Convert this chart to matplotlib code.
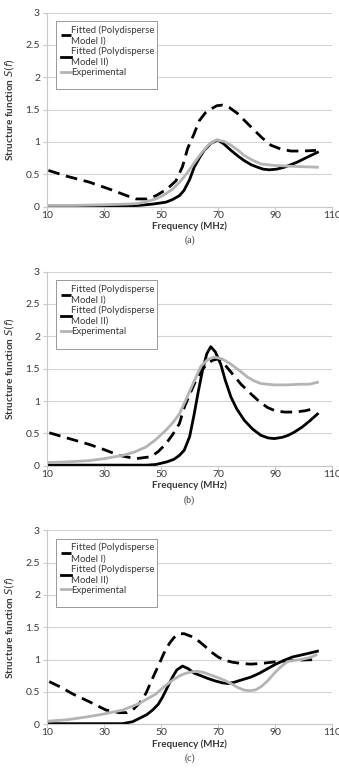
import matplotlib
matplotlib.use("Agg")
import matplotlib.pyplot as plt
from matplotlib.patches import Rectangle

plt.rcParams['font.family'] = ['Lato', 'DejaVu Sans']

# ---- panel (a) ----
fa_m1 = [10.5, 17, 24.8, 32, 38, 41.2, 45, 48.2, 52, 55.2, 57.5, 59.3, 61.5, 63.4, 65.5, 67.5, 69.5, 71.5, 74, 76.8, 79.5, 82.7, 85.5, 88.5, 92, 95.5, 99.6, 104.3]
va_m1 = [0.56, 0.47, 0.38, 0.27, 0.17, 0.12, 0.12, 0.17, 0.27, 0.40, 0.62, 0.90, 1.12, 1.33, 1.45, 1.51, 1.56, 1.57, 1.53, 1.44, 1.32, 1.18, 1.06, 0.95, 0.89, 0.86, 0.86, 0.87]
fa_m2 = [10.5, 20, 30, 38, 42.3, 47, 51.7, 54, 56.4, 58, 60, 61.6, 63.5, 65.1, 67.5, 69.8, 72, 74.5, 77, 79.2, 81.5, 83.8, 85.8, 87.9, 90.5, 93.2, 95.5, 97.8, 101, 104.8]
va_m2 = [0.01, 0.01, 0.01, 0.01, 0.02, 0.04, 0.07, 0.11, 0.17, 0.25, 0.42, 0.61, 0.76, 0.87, 0.98, 1.03, 0.97, 0.87, 0.78, 0.71, 0.65, 0.61, 0.58, 0.57, 0.58, 0.61, 0.65, 0.69, 0.76, 0.84]
fa_ex = [10.5, 20, 30, 38, 42, 45, 48.2, 51, 54, 56.5, 59.3, 61.5, 64, 66.5, 69.2, 72, 74.5, 77, 79.2, 82, 85, 89, 93.2, 98, 104.8]
va_ex = [0.02, 0.02, 0.03, 0.04, 0.05, 0.08, 0.12, 0.18, 0.27, 0.38, 0.53, 0.67, 0.82, 0.95, 1.03, 1.01, 0.95, 0.87, 0.79, 0.72, 0.66, 0.64, 0.63, 0.62, 0.61]

# ---- panel (b) ----
fb_m1 = [10.8, 17, 24.8, 30, 35.3, 41.2, 46.5, 49, 51.7, 54, 56.4, 58.1, 60, 62, 64, 66, 68, 69.8, 72, 75, 78, 81.5, 84.5, 87.3, 90, 93.2, 97, 100.5, 104.3]
vb_m1 = [0.51, 0.43, 0.33, 0.25, 0.16, 0.11, 0.14, 0.22, 0.34, 0.48, 0.65, 0.90, 1.10, 1.30, 1.46, 1.57, 1.63, 1.65, 1.58, 1.42, 1.26, 1.11, 0.99, 0.90, 0.85, 0.83, 0.83, 0.85, 0.89]
fb_m2 = [10.8, 20, 30, 40, 45, 48.2, 52, 54.5, 56.4, 58.1, 60, 61.6, 63, 64.5, 66, 67.4, 69, 70.9, 72.5, 74.5, 76.5, 79.2, 82, 85, 87.5, 89.7, 92.5, 94.5, 96.7, 99.5, 102, 104.8]
vb_m2 = [0.01, 0.01, 0.01, 0.01, 0.01, 0.02, 0.06, 0.10, 0.16, 0.24, 0.45, 0.80, 1.14, 1.47, 1.73, 1.84, 1.76, 1.57, 1.32, 1.06, 0.88, 0.70, 0.57, 0.47, 0.43, 0.42, 0.44, 0.47, 0.52, 0.60, 0.69, 0.80]
fb_ex = [10.8, 17, 24.8, 30, 36.5, 40.5, 44.7, 48, 51.7, 54, 56.4, 59.3, 61.5, 64, 66.3, 68.6, 71.5, 74.5, 77.5, 80.3, 82.7, 85, 89.7, 94, 98.9, 102, 104.8]
vb_ex = [0.05, 0.06, 0.08, 0.11, 0.16, 0.21, 0.29, 0.40, 0.55, 0.66, 0.80, 1.08, 1.30, 1.54, 1.64, 1.68, 1.65, 1.57, 1.47, 1.37, 1.31, 1.27, 1.25, 1.25, 1.26, 1.26, 1.29]

# ---- panel (c) ----
fc_m1 = [10.8, 15, 19, 24.8, 30.7, 35.3, 38, 40, 42.5, 44.7, 47, 49.4, 51, 52.9, 54.5, 56.4, 58.1, 60.5, 62.8, 65, 67.5, 70, 72.2, 75, 78, 81.5, 85, 90.9, 96.7, 104.3]
vc_m1 = [0.66, 0.57, 0.47, 0.35, 0.22, 0.18, 0.18, 0.22, 0.33, 0.48, 0.71, 0.94, 1.10, 1.25, 1.34, 1.40, 1.40, 1.36, 1.30, 1.22, 1.12, 1.04, 0.99, 0.96, 0.94, 0.93, 0.94, 0.97, 0.99, 1.00]
fc_m2 = [10.8, 20, 30, 36.5, 40, 42.3, 45, 47, 49, 50.5, 52.3, 54, 55.5, 57.5, 59.5, 61.6, 64, 66.3, 69, 71.5, 73.5, 75.6, 78.5, 81.5, 84.5, 87.3, 90.2, 93.2, 96, 99, 102, 104.8]
vc_m2 = [0.01, 0.01, 0.01, 0.01, 0.04, 0.09, 0.15, 0.22, 0.31, 0.42, 0.58, 0.73, 0.84, 0.90, 0.86, 0.79, 0.75, 0.71, 0.67, 0.64, 0.63, 0.65, 0.69, 0.73, 0.79, 0.86, 0.93, 0.99, 1.04, 1.07, 1.10, 1.13]
fc_ex = [10.8, 17, 24.8, 30, 36.5, 42.3, 45, 48.2, 51, 54, 56.5, 58.7, 60.8, 62.8, 65, 67.5, 70, 72.2, 74.5, 76.8, 79, 80.9, 83, 85, 87.3, 89.7, 92, 94.3, 97, 99, 102, 104.3]
vc_ex = [0.05, 0.07, 0.12, 0.16, 0.22, 0.32, 0.39, 0.47, 0.58, 0.68, 0.75, 0.79, 0.81, 0.82, 0.80, 0.76, 0.72, 0.68, 0.63, 0.57, 0.53, 0.52, 0.53, 0.58, 0.67, 0.79, 0.89, 0.97, 0.99, 1.00, 1.03, 1.07]

panels = [
    ("(a)", fa_m1, va_m1, fa_m2, va_m2, fa_ex, va_ex),
    ("(b)", fb_m1, vb_m1, fb_m2, vb_m2, fb_ex, vb_ex),
    ("(c)", fc_m1, vc_m1, fc_m2, vc_m2, fc_ex, vc_ex),
]
bottoms = [0.7333, 0.3990, 0.0654]

xticks = [10, 30, 50, 70, 90, 110]
yticks = [0, 0.5, 1, 1.5, 2, 2.5, 3]
ytick_labels = ["0", "0.5", "1", "1.5", "2", "2.5", "3"]

txt = '#383838'
grid = '#d4d4d4'
fs = 7.5

fig = plt.figure(figsize=(3.39, 7.75), dpi=100)

for (cap, f1, v1, f2, v2, f3, v3), b in zip(panels, bottoms):
    ax = fig.add_axes([0.1386, b, 0.8416, 0.2505])
    ax.plot(f1, v1, color='black', lw=2.0, linestyle=(0, (4.2, 2.4)),
            label='Fitted (Polydisperse\nModel I)')
    ax.plot(f2, v2, color='black', lw=2.0, label='Fitted (Polydisperse\nModel II)')
    ax.plot(f3, v3, color='#b4b4b4', lw=2.0, label='Experimental')

    ax.set_xlim(10, 110)
    ax.set_ylim(0, 3)
    ax.set_xticks(xticks)
    ax.set_yticks(yticks)
    ax.set_yticklabels(ytick_labels)
    ax.yaxis.grid(True, color=grid, lw=0.8)
    ax.set_axisbelow(True)
    for s in ['top', 'right']:
        ax.spines[s].set_visible(False)
    for s in ['left', 'bottom']:
        ax.spines[s].set_color('#c8c8c8')
        ax.spines[s].set_linewidth(0.8)
    ax.tick_params(axis='both', colors='#c8c8c8', labelcolor=txt, labelsize=fs,
                   length=3, width=0.8)
    ax.tick_params(axis='x', pad=0)
    ax.tick_params(axis='y', pad=2)

    ax.set_xlabel('Frequency (MHz)', fontsize=7.0, fontweight='bold', color=txt)
    ax.xaxis.set_label_coords(0.5, -0.1)
    ax.xaxis.label.set_va('center')
    ax.set_ylabel(r'Structure function $\mathbf{\mathit{S(f)}}$', fontsize=7.2,
                  fontweight='bold', color=txt)
    ax.yaxis.set_label_coords(-0.11, 0.5)
    ax.text(0.5, -0.175, cap, transform=ax.transAxes, ha='center', va='center',
            fontsize=7, family='Liberation Serif', color=txt)

    # legend box (drawn separately, it has extra room below the entries)
    ax.add_patch(Rectangle((0.033, 0.604), 0.354, 0.351, transform=ax.transAxes,
                           facecolor='white', edgecolor='#999999', lw=0.7, zorder=4))
    leg = ax.legend(loc='upper left', bbox_to_anchor=(0.05, 0.935), fontsize=6.9,
                    handlelength=1.0, handletextpad=0.05, labelspacing=0.12,
                    borderpad=0, frameon=False, borderaxespad=0)
    leg.set_zorder(5)
    for t in leg.get_texts():
        t.set_color(txt)
        t.set_linespacing(1.25)

fig.savefig('out.png', dpi=100)
